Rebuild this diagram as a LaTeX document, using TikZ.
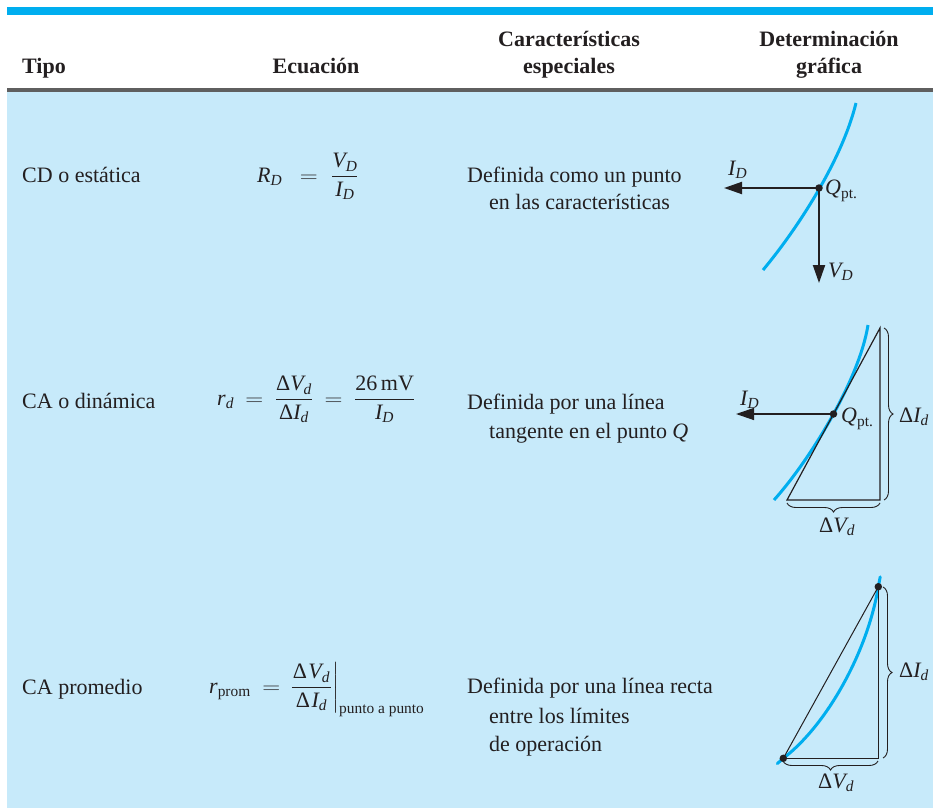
\documentclass[tikz,border=0pt]{standalone}
\usepackage{amsmath}
\usepackage{graphicx}
\usepackage{fontspec}
\setmainfont{Liberation Serif}
\usetikzlibrary{arrows.meta,decorations.pathreplacing}
\definecolor{barblue}{RGB}{0,174,239}
\definecolor{bgblue}{RGB}{199,234,250}
\definecolor{rulegray}{RGB}{95,95,95}
\definecolor{txt}{RGB}{35,31,32}
\newcommand{\vi}[1]{\text{\itshape #1}}
\newcommand{\vr}[1]{\text{\upshape #1}}
\newcommand{\eqs}{\mathrel{\scalebox{1.2}[1]{$=$}}}
\begin{document}
\begin{tikzpicture}[x=1pt,y=-1pt,
  font=\fontsize{22}{26}\selectfont,
  lbl/.style={anchor=base west, inner sep=0pt, text=txt},
  hdr/.style={anchor=base, inner sep=0pt, font=\fontsize{22}{26}\selectfont\bfseries, text=txt},
  curve/.style={draw=barblue, line width=3pt},
  arrthick/.style={draw=txt, line width=2pt, -{Triangle[length=18pt,width=12pt]}},
  arrthin/.style={draw=txt, line width=1.3pt, -{Triangle[length=18pt,width=12pt]}},
  tri/.style={draw=txt, line width=1.2pt, line join=miter},
  br/.style={draw=txt, line width=0.9pt, decorate, decoration={brace, amplitude=9pt}},
  dot/.style={circle, fill=txt, inner sep=0pt, minimum size=7.5pt}]
\useasboundingbox (0,0) rectangle (933,808);
\fill[white] (0,0) rectangle (933,808);
\fill[barblue] (7,7) rectangle (933,15);
\fill[bgblue] (7,90) rectangle (933,808);
\fill[rulegray] (7,88) rectangle (933,91.5);

% headers
\node[hdr, anchor=base west] (h1) at (22,74) {Tipo};
\node[hdr] (h2) at (316,74) {Ecuación};
\node[hdr] (h3a) at (569,46) {Características};
\node[hdr] (h3b) at (569,74) {especiales};
\node[hdr] (h4a) at (829,46) {Determinación};
\node[hdr] (h4b) at (829,74) {gráfica};

% row 1
\node[lbl] (t1) at (22,182) {CD o estática};
\node[lbl] (e1) at (257,182) {$\displaystyle \vi{R}_{\vi{D}}\hspace{6pt} \;\eqs\;\hspace{2pt} \frac{\vi{V}_{\vi{D}}}{\vi{I}_{\vi{D}}}$};
\node[lbl] (d1a) at (467,182) {Definida como un punto};
\node[lbl] (d1b) at (489,209) {en las características};

% row 2
\node[lbl] (t2) at (22,408) {CA o dinámica};
\node[lbl] (e2) at (217,405) {$\displaystyle \vi{r}_{\vi{d}} \;\eqs\; \frac{\vr{Δ}\vi{V}_{\vi{d}}}{\vr{Δ}\vi{I}_{\vi{d}}} \;\eqs\; \frac{\vr{26\,mV}}{\vi{I}_{\vi{D}}}$};
\node[lbl] (d2a) at (467,409) {Definida por una línea};
\node[lbl] (d2b) at (489,438) {tangente en el punto \textit{Q}};

% row 3
\node[lbl] (t3) at (22,694) {CA promedio};
\node[lbl] (e3) at (209,693) {$\displaystyle \vi{r}_{\vr{prom}} \;\eqs\mkern3mu \left.\frac{\hspace{1pt}\vr{Δ}\hspace{1.5pt}\vi{V}_{\vi{d}}\hspace{1pt}}{\hspace{1pt}\vr{Δ}\hspace{1.5pt}\vi{I}_{\vi{d}}\hspace{1pt}}\right|_{\vr{punto a punto}}$};
\node[lbl] (d3a) at (467,693) {Definida por una línea recta};
\node[lbl] (d3b) at (489,723) {entre los límites};
\node[lbl] (d3c) at (489,751) {de operación};

% graph 1
\draw[curve] (763,270) .. controls (798,228) and (842,160) .. (856,103);
\coordinate (id1) at (724,188);
\coordinate (vd1) at (819,283);
\draw[arrthick] (819,188) -- (id1);
\draw[arrthick] (819,188) -- (vd1);
\node[dot] (q1) at (819,188) {};
\node[lbl] (lid1) at (728,175) {$\vi{I}_{\vi{D}}$};
\node[lbl] (lq1) at (825,194) {$\vi{Q}_{\vr{pt.}}$};
\node[lbl] (lvd1) at (828,277) {$\vi{V}_{\vi{D}}$};

% graph 2
\draw[curve] (774,500) .. controls (809,461) and (859,381) .. (868,325);
\coordinate (t2a) at (787,500);
\coordinate (t2b) at (880,328);
\coordinate (t2c) at (880,500);
\draw[tri] (t2a) -- (t2b) -- (t2c) -- cycle;
\coordinate (id2) at (736,414);
\draw[arrthin] (833.5,414) -- (id2);
\node[dot] (q2) at (833.5,414) {};
\draw[br] (884,328) -- (884,500);
\draw[br] (880,503) -- (787,503);
\node[lbl] (lid2) at (740,405) {$\vi{I}_{\vi{D}}$};
\node[lbl] (lq2) at (841,422) {$\vi{Q}_{\vr{pt.}}$};
\node[lbl] (ldi2) at (899,422) {$\vr{Δ}\vi{I}_{\vi{d}}$};
\node[lbl] (ldv2) at (819,532) {$\vr{Δ}\vi{V}_{\vi{d}}$};

% graph 3
\coordinate (b3) at (783.3,758.3);
\coordinate (a3) at (878.3,586.7);
\coordinate (c3) at (878.3,758.3);
\draw[curve, line cap=round] (777.3,763.6) -- (b3) .. controls (828,724) and (868,650) .. (a3) -- (880.2,576.9);
\draw[draw=txt, line width=1pt] (b3) -- (a3);
\draw[draw=txt, line width=1.3pt] (a3) -- (c3) -- (b3);
\node[dot] (p3a) at (a3) {};
\node[dot] (p3b) at (b3) {};
\draw[br] (883,587) -- (883,758);
\draw[br] (878,761) -- (783,761);
\node[lbl] (ldi3) at (899,677) {$\vr{Δ}\vi{I}_{\vi{d}}$};
\node[lbl] (ldv3) at (818,788) {$\vr{Δ}\vi{V}_{\vi{d}}$};
\end{tikzpicture}
\end{document}
